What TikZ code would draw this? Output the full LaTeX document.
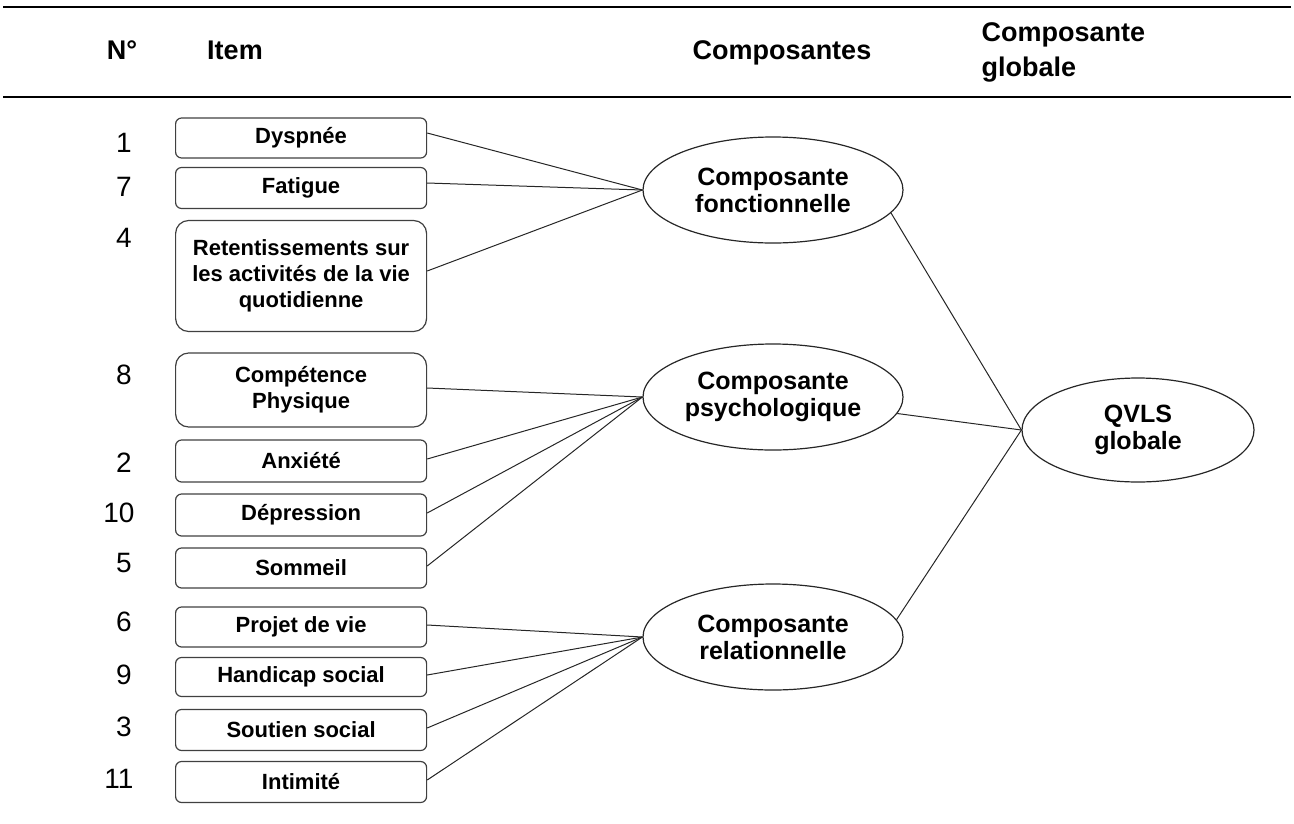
\documentclass[tikz,border=0pt]{standalone}
\usepackage{fontspec}
\setmainfont{Liberation Sans}
\usetikzlibrary{shapes.geometric}
\usetikzlibrary{positioning}

\tikzset{
  itembox/.style={draw=black!75, line width=1.2pt, rounded corners=6pt,
    minimum width=251pt, inner sep=0pt, anchor=west, align=center,
    font=\fontsize{22}{26}\selectfont\bfseries},
  bigbox/.style={itembox, rounded corners=13pt},
  compo/.style={ellipse, draw=black!85, line width=1.2pt, minimum width=260pt,
    minimum height=106pt, inner sep=0pt, align=center,
    font=\fontsize{25}{27}\selectfont\bfseries},
  num/.style={font=\fontsize{28}{30}\selectfont},
  head/.style={align=left, font=\fontsize{27}{35}\selectfont\bfseries},
  link/.style={draw=black!85, line width=1pt},
  rule/.style={line width=2.5pt}
}

\begin{document}
\begin{tikzpicture}[x=1pt, y=-1pt]
            \useasboundingbox (0,0) rectangle (1294,823);
            % header of the table
            \draw[rule] (3,7) -- (1291,7);
            \draw[rule] (3,97) -- (1291,97);
            \node[head] (hnum) at (122,50) {N°};
            \node[head] (hitem) at (235,50) {Item};
            \node[head] (hcompo) at (782,53) {Composantes};
            \node[head, anchor=west] (hglob) at (978,52) {Composante\\globale};

            % items
            \node[itembox, minimum height=40pt] (dysp) at (175,138) {Dyspnée};
            \node[itembox, minimum height=41pt] (fatig) at (175,188) {Fatigue};
            \node[bigbox, minimum height=111pt] (retent) at (175,276)
                {Retentissements sur\\les activités de la vie\\quotidienne};
            \node[bigbox, minimum height=74pt] (compet) at (175,390)
                {Compétence\\Physique};
            \node[itembox, minimum height=42pt] (anxi) at (175,461) {Anxiété};
            \node[itembox, minimum height=42pt] (depre) at (175,515) {Dépression};
            \node[itembox, minimum height=40pt] (somm) at (175,568) {Sommeil};
            \node[itembox, minimum height=40pt] (projet) at (175,627) {Projet de vie};
            \node[itembox, minimum height=39pt] (handi) at (175,677) {Handicap social};
            \node[itembox, minimum height=41pt] (soutien) at (175,730) {Soutien social};
            \node[itembox, minimum height=41pt] (intim) at (175,782) {Intimité};

            % item numbers
            \node[num] (n1) at (124,143) {1};
            \node[num] (n7) at (124,187) {7};
            \node[num] (n4) at (124,238) {4};
            \node[num] (n8) at (124,375) {8};
            \node[num] (n2) at (124,463) {2};
            \node[num] (n10) at (119,513) {10};
            \node[num] (n5) at (124,563) {5};
            \node[num] (n6) at (124,622) {6};
            \node[num] (n9) at (124,675) {9};
            \node[num] (n3) at (124,727) {3};
            \node[num] (n11) at (119,779) {11};

            % components
            \node[compo] (fonc) at (773,190) {Composante\\fonctionnelle};
            \node[compo] (psy) at (773,397) {Composante\\psychologique};
            \node[compo] (rel) at (773,637) {Composante\\relationnelle};
            \node[compo, minimum width=232pt, minimum height=104pt] (qvls)
                at (1138,430) {QVLS\\globale};

            % links
            \foreach \it in {dysp, fatig, retent}
                \draw[link] ([yshift=5pt]\it.east) -- (fonc.west);
            \foreach \it in {compet, anxi, depre, somm}
                \draw[link] ([yshift=2pt]\it.east) -- (psy.west);
            \foreach \it in {projet, handi, soutien, intim}
                \draw[link] ([yshift=2pt]\it.east) -- (rel.west);
            \draw[link] (fonc.-11) -- (qvls.west);
            \draw[link] (psy) -- (qvls.west);
            \draw[link] (rel.8) -- (qvls.west);
        \end{tikzpicture}
\end{document}
